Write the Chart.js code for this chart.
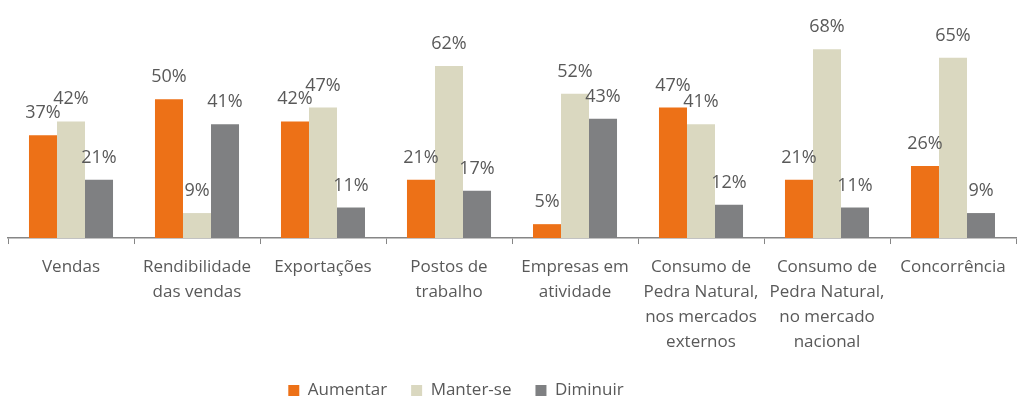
<!DOCTYPE html>
<html>
<head>
<meta charset="utf-8">
<script src="https://cdn.jsdelivr.net/npm/chart.js@4/dist/chart.umd.min.js"></script>
<style>
  html, body { margin: 0; padding: 0; background: #ffffff; }
  #wrap { width: 1023px; height: 407px; position: relative; }
</style>
</head>
<body>
<div id="wrap"><canvas id="chart"></canvas></div>
<script>
const categories = [
  "Vendas",
  ["Rendibilidade", "das vendas"],
  "Exportações",
  ["Postos de", "trabalho"],
  ["Empresas em", "atividade"],
  ["Consumo de", "Pedra Natural,", "nos mercados", "externos"],
  ["Consumo de", "Pedra Natural,", "no mercado", "nacional"],
  "Concorrência"
];
const aumentar = [37, 50, 42, 21, 5, 47, 21, 26];
const manter = [42, 9, 47, 62, 52, 41, 68, 65];
const diminuir = [21, 41, 11, 17, 43, 12, 11, 9];

const textColor = "#595959";
const fontFamily = "'Open Sans', sans-serif";

// value labels above each bar
const barLabels = {
  id: "barLabels",
  afterDatasetsDraw(chart) {
    const ctx = chart.ctx;
    ctx.save();
    ctx.fillStyle = textColor;
    ctx.font = "18px " + fontFamily;
    ctx.textAlign = "center";
    ctx.textBaseline = "alphabetic";
    chart.data.datasets.forEach((ds, i) => {
      chart.getDatasetMeta(i).data.forEach((bar, j) => {
        ctx.fillText(ds.data[j] + "%", bar.x, bar.y - 17);
      });
    });
    ctx.restore();
  }
};

// the legend sits left of centre and a bit higher in the original
const legendShift = {
  id: "legendShift",
  afterLayout(chart) {
    const lg = chart.legend;
    lg.left -= 56;
    lg.right -= 56;
    lg.top -= 8;
    lg.bottom -= 8;
  }
};

new Chart(document.getElementById("chart"), {
  type: "bar",
  data: {
    labels: categories,
    datasets: [
      { label: "Aumentar", data: aumentar, backgroundColor: "#ED7117" },
      { label: "Manter-se", data: manter, backgroundColor: "#DAD8C0" },
      { label: "Diminuir", data: diminuir, backgroundColor: "#7F8082" }
    ]
  },
  options: {
    responsive: true,
    maintainAspectRatio: false,
    animation: false,
    layout: { padding: { left: 8, right: 7, top: 16, bottom: -10 } },
    datasets: {
      bar: { categoryPercentage: 0.667, barPercentage: 1 }
    },
    plugins: {
      tooltip: { enabled: false },
      legend: {
        position: "bottom",
        labels: {
          color: textColor,
          font: { family: fontFamily, size: 17 },
          boxWidth: 11,
          boxHeight: 11,
          padding: 24
        }
      }
    },
    scales: {
      x: {
        grid: {
          offset: true,
          drawOnChartArea: false,
          drawTicks: true,
          tickLength: 6,
          color: "#868686"
        },
        border: { color: "#868686", width: 1.5 },
        ticks: {
          color: textColor,
          font: { family: fontFamily, size: 17, lineHeight: 1.47 },
          maxRotation: 0,
          autoSkip: false,
          padding: 11
        }
      },
      y: {
        display: false,
        min: 0,
        max: 80
      }
    }
  },
  plugins: [barLabels, legendShift]
});
</script>
</body>
</html>
